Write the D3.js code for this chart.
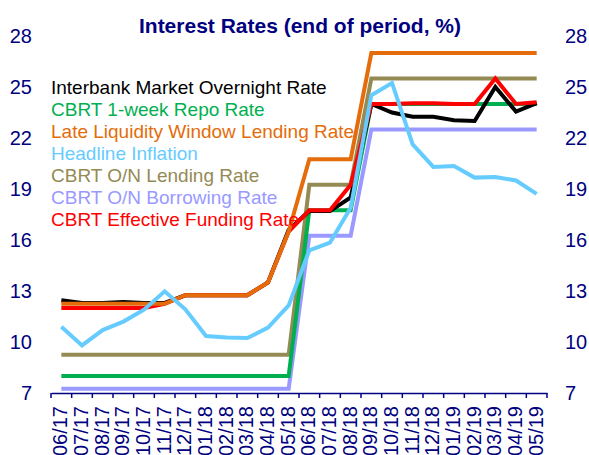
<!DOCTYPE html>
<html>
<head>
  <meta charset="UTF-8">
  <style>
    body { margin: 0; background-color: white; }
    svg { display: block; font-family: "Liberation Sans", Arial, sans-serif; }
  </style>
</head>
<body>
<svg></svg>
<script src="https://d3js.org/d3.v7.min.js"></script>
<script>

let width = 589, height = 455;

// months shown on the x axis
let months = ["06/17","07/17","08/17","09/17","10/17","11/17","12/17","01/18","02/18","03/18","04/18","05/18",
              "06/18","07/18","08/18","09/18","10/18","11/18","12/18","01/19","02/19","03/19","04/19","05/19"];

let yTicks = [7, 10, 13, 16, 19, 22, 25, 28];

// series values
let interbank = [12.45,12.3,12.3,12.35,12.3,12.3,12.75,12.75,12.75,12.75,13.5,16.6,
                 17.7,17.7,18.5,24.0,23.5,23.25,23.25,23.05,23.0,25.0,23.55,24.05];
let repo      = [8,8,8,8,8,8,8,8,8,8,8,8,17.75,17.75,17.75,24,24,24,24,24,24,24,24,24];
let lateLiq   = [12.25,12.25,12.25,12.25,12.25,12.25,12.75,12.75,12.75,12.75,13.5,16.5,
                 20.75,20.75,20.75,27,27,27,27,27,27,27,27,27];
let inflation = [10.9,9.8,10.7,11.2,11.9,12.98,11.92,10.35,10.26,10.23,10.85,12.15,
                 15.39,15.85,17.9,24.52,25.24,21.62,20.3,20.35,19.67,19.71,19.5,18.71];
let onLending = [9.25,9.25,9.25,9.25,9.25,9.25,9.25,9.25,9.25,9.25,9.25,9.25,
                 19.25,19.25,19.25,25.5,25.5,25.5,25.5,25.5,25.5,25.5,25.5,25.5];
let onBorrow  = [7.25,7.25,7.25,7.25,7.25,7.25,7.25,7.25,7.25,7.25,7.25,7.25,
                 16.25,16.25,16.25,22.5,22.5,22.5,22.5,22.5,22.5,22.5,22.5,22.5];
let effective = [12.0,12.0,12.0,12.0,12.0,12.25,12.75,12.75,12.75,12.75,13.5,16.5,
                 17.75,17.75,19.25,24.0,24.0,24.05,24.05,24.0,24.0,25.5,24.0,24.1];

let series = [
  {name: "Interbank Market Overnight Rate", color: "#000000", values: interbank},
  {name: "CBRT 1-week Repo Rate", color: "#00B050", values: repo},
  {name: "Late Liquidity Window Lending Rate", color: "#E46C0A", values: lateLiq},
  {name: "Headline Inflation", color: "#66CCFF", values: inflation},
  {name: "CBRT O/N Lending Rate", color: "#948A54", values: onLending},
  {name: "CBRT O/N Borrowing Rate", color: "#9999FF", values: onBorrow},
  {name: "CBRT Effective Funding Rate", color: "#FF0000", values: effective}
];

// which series is painted over which
let drawOrder = [4, 5, 1, 0, 6, 2, 3];

let navy = "#000080";

let svg = d3.select("svg")
    .attr("width", width)
    .attr("height", height);

let x = d3.scaleBand().domain(months).range([51, 547]);
let y = d3.scaleLinear().domain([7, 28]).range([393, 36]);

let line = d3.line()
    .x((d, i) => x(months[i]) + x.bandwidth() / 2)
    .y(d => y(d));

// lines
svg.append("g")
  .selectAll("path")
  .data(drawOrder.map(i => series[i]))
  .join("path")
    .attr("d", d => line(d.values))
    .attr("fill", "none")
    .attr("stroke", d => d.color)
    .attr("stroke-width", 4)
    .attr("stroke-linejoin", "miter");

// bottom axis
let xAxis = svg.append("g")
    .attr("transform", "translate(0," + y(7) + ")")
    .call(d3.axisBottom(x).tickSize(0).tickSizeOuter(0));
xAxis.select(".domain").attr("stroke", navy).attr("stroke-width", 1.5);
xAxis.selectAll("text")
    .attr("fill", navy)
    .style("font-size", "20px")
    .attr("transform", "rotate(-90)")
    .attr("text-anchor", "end")
    .attr("x", -13)
    .attr("y", -1)
    .attr("dy", "0.35em");

// ticks at band boundaries
let bounds = months.map(m => x(m)).concat([x.range()[1]]);
svg.append("g")
  .selectAll("line")
  .data(bounds)
  .join("line")
    .attr("x1", d => d).attr("x2", d => d)
    .attr("y1", y(7)).attr("y2", y(7) + 5)
    .attr("stroke", navy)
    .attr("stroke-width", 1.5);

// left and right value labels
svg.append("g")
  .selectAll("text")
  .data(yTicks)
  .join("text")
    .attr("x", 32)
    .attr("y", d => y(d))
    .attr("dy", "0.35em")
    .attr("text-anchor", "end")
    .attr("fill", navy)
    .style("font-size", "20px")
    .text(d => d);

svg.append("g")
  .selectAll("text")
  .data(yTicks)
  .join("text")
    .attr("x", 565)
    .attr("y", d => y(d))
    .attr("dy", "0.35em")
    .attr("fill", navy)
    .style("font-size", "20px")
    .text(d => d);

// title
svg.append("text")
    .attr("x", 300)
    .attr("y", 33)
    .attr("text-anchor", "middle")
    .attr("fill", navy)
    .style("font-size", "21px")
    .style("font-weight", "bold")
    .text("Interest Rates (end of period, %)");

// legend, drawn over the lines
svg.append("g")
  .selectAll("text")
  .data(series)
  .join("text")
    .attr("x", 51)
    .attr("y", (d, i) => 94 + i * 22)
    .attr("fill", d => d.color)
    .style("font-size", "19px")
    .text(d => d.name);

</script>
</body>
</html>
